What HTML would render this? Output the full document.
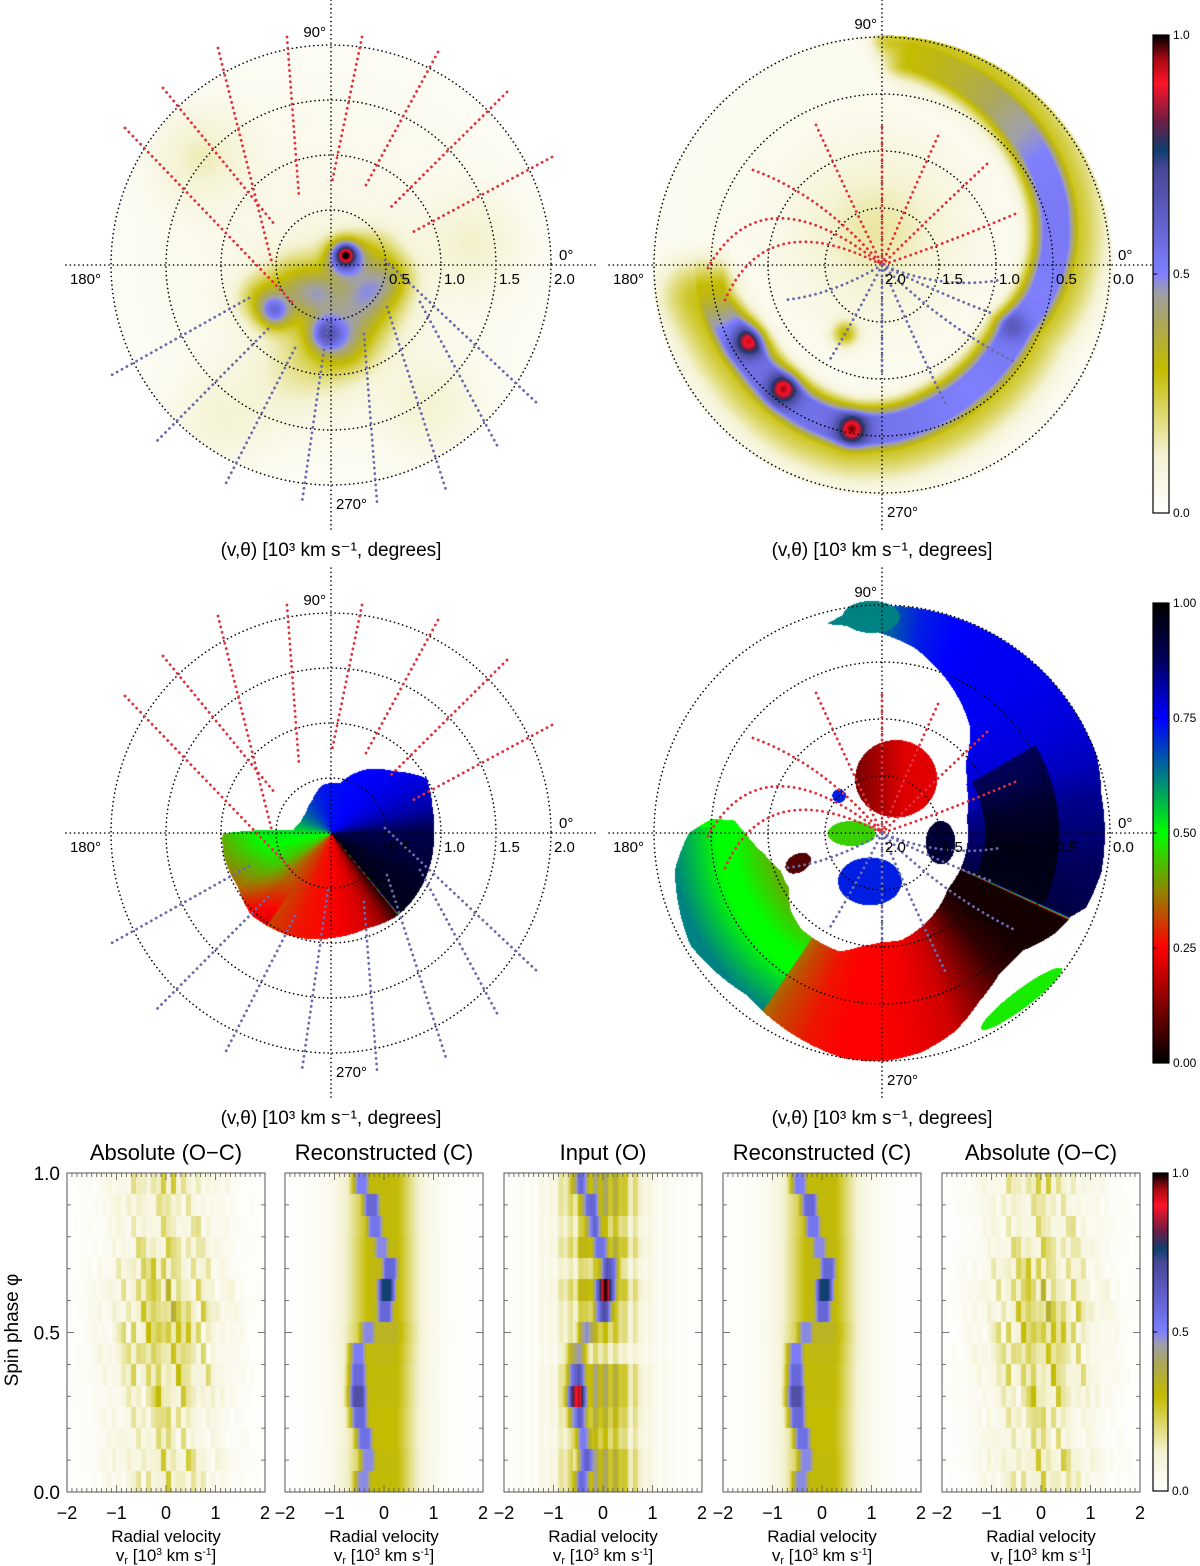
<!DOCTYPE html>
<html><head><meta charset="utf-8">
<style>
html,body{margin:0;padding:0;background:#fff;}
#root{position:relative;width:1200px;height:1566px;overflow:hidden;background:#fff;font-family:"Liberation Sans",sans-serif;}
canvas{position:absolute;}
#ov{position:absolute;left:0;top:0;}
</style></head>
<body>
<div id="root">
<canvas id="cTL" width="460" height="460" style="left:101px;top:35px"></canvas>
<canvas id="cTR" width="480" height="480" style="left:642px;top:25px"></canvas>
<canvas id="cML" width="460" height="460" style="left:101px;top:603px"></canvas>
<canvas id="cMR" width="480" height="480" style="left:642px;top:593px"></canvas>
<canvas id="cb1" width="16" height="478" style="left:1153px;top:35px"></canvas>
<canvas id="cb2" width="16" height="460" style="left:1153px;top:603px"></canvas>
<canvas id="cb3" width="15" height="318" style="left:1153px;top:1173px"></canvas>
<canvas id="t0" width="198" height="319" style="left:67px;top:1173px"></canvas>
<canvas id="t1" width="198" height="319" style="left:285px;top:1173px"></canvas>
<canvas id="t2" width="198" height="319" style="left:504px;top:1173px"></canvas>
<canvas id="t3" width="198" height="319" style="left:723px;top:1173px"></canvas>
<canvas id="t4" width="198" height="319" style="left:942px;top:1173px"></canvas>
<svg id="ov" width="1200" height="1566" xmlns="http://www.w3.org/2000/svg"></svg>
</div>
<script>
// ---------- DATA ----------
const tlX=[0.13,0.12,-0.52,-0.05,0.35,0.55,-0.30,0.10,-0.65,0.40,-0.10,0,-1.2,0.9,-1.0,1.3,-0.3,0.0,0.3];
const tlY=[0.10,0.08,-0.43,-0.62,-0.30,-0.10,-0.20,-0.70,-0.30,0.15,-0.25,0,1.0,-1.3,-1.4,0.2,-1.0,-0.45,-0.2];
const tlA=[0.40,0.46,0.30,0.28,0.22,0.16,0.22,0.22,0.18,0.12,0.10,0.07,0.10,0.08,0.08,0.08,0.08,0.15,0.08];
const tlS=[0.065,0.12,0.10,0.10,0.22,0.15,0.20,0.20,0.15,0.15,0.12,1.5,0.3,0.3,0.3,0.3,0.3,0.35,0.15];
const trAng=[82,65,50,35,20,5,-10,-25,-40,-55,-70,-85,-100,-115,-130,-145,-158,-170];
const trRad=[1.85,1.78,1.72,1.66,1.60,1.52,1.42,1.30,1.30,1.32,1.36,1.42,1.46,1.45,1.43,1.42,1.45,1.52];
const trAmp=[0.30,0.36,0.43,0.50,0.52,0.52,0.50,0.52,0.52,0.50,0.52,0.54,0.55,0.55,0.55,0.55,0.50,0.32];
const trPkAng=[-100.6,-128.7,-150.5,-25,90];
const trPkRad=[1.46,1.39,1.35,1.26,1.98];
const trPkAmp=[0.42,0.40,0.40,0.12,0.12];
const mlAng=[0,15,30,45,60,80,100,120,140,160,175,180,190,210,225,250,270,290,300,309,310,330,345,360];
const mlMaxR=[0.93,0.95,1.0,0.8,0.68,0.47,0.45,0.35,0.30,0.30,0.35,0.99,1.0,0.98,1.04,1.0,0.95,0.92,0.94,0.96,0.96,0.95,0.94,0.93];
const mlVal=[0.9,0.82,0.78,0.76,0.75,0.74,0.73,0.70,0.66,0.60,0.54,0.52,0.50,0.44,0.34,0.27,0.25,0.21,0.15,0.04,0.97,0.95,0.92,0.9];
const mrAng=[0,10,20,30,40,50,60,70,80,90,100,105,106,174,175,180,190,200,210,220,230,240,250,260,270,280,290,300,310,320,330,335,336,340,350,360];
const mrMin=[0.75,0.75,0.8,0.85,0.95,1.2,1.35,1.5,1.65,1.75,1.85,1.9,9,9,1.3,1.2,1.05,0.95,0.95,1.05,1.1,1.1,1.1,1.0,0.95,0.95,0.9,0.85,0.8,0.75,0.75,0.75,0.75,0.75,0.75,0.75];
const mrMax=[1.95,1.95,2.0,2.0,2.0,2.0,2.0,2.0,2.0,2.0,1.95,1.9,0,0,1.5,1.7,1.85,1.9,1.95,1.9,1.85,1.9,1.95,2.0,2.0,1.95,1.85,1.7,1.6,1.6,1.75,1.8,1.8,1.9,1.95,1.95];
const mrVal=[0.86,0.84,0.8,0.78,0.77,0.76,0.76,0.75,0.72,0.64,0.62,0.62,0.62,0.5,0.5,0.5,0.5,0.5,0.48,0.45,0.4,0.32,0.27,0.25,0.25,0.23,0.2,0.12,0.05,0.02,0.02,0.02,0.92,0.9,0.88,0.86];
const mbX=[0.12,-0.11,-0.27,0.51,1.22,-0.74,-0.10,-0.38];
const mbY=[0.48,-0.42,0.00,-0.08,-1.45,-0.26,1.90,0.33];
const mbRx=[0.36,0.28,0.21,0.13,0.44,0.12,0.25,0.06];
const mbRy=[0.34,0.21,0.11,0.19,0.08,0.08,0.14,0.06];
const mbRot=[0,0,0,0,37,30,0,0];
const mbV=[0.22,0.72,0.45,0.93,0.48,0.08,0.62,0.72];
const phaseBins=15;
const recCenter=[-0.42,-0.32,-0.39,-0.49,-0.52,-0.52,-0.52,-0.32,0.02,0.05,0.12,-0.05,-0.18,-0.25,-0.45];
const recPeak=[0.45,0.45,0.52,0.55,0.65,0.55,0.48,0.45,0.55,0.72,0.55,0.45,0.50,0.55,0.47];
const recEnv=[0.27,0.27,0.26,0.26,0.27,0.27,0.28,0.30,0.28,0.28,0.28,0.28,0.27,0.27,0.27];
const inpPeak=[0.50,0.55,0.45,0.55,0.88,0.60,0.40,0.42,0.60,0.90,0.60,0.50,0.50,0.55,0.50];
const inpEnv=[0.30,0.30,0.20,0.25,0.30,0.30,0.10,0.20,0.20,0.30,0.15,0.30,0.20,0.30,0.30];
const ocRow=[0.18,0.22,0.18,0.18,0.22,0.27,0.27,0.27,0.30,0.27,0.22,0.2,0.18,0.18,0.2];
const ocCol=[0.2,0.5,0.3,0.8,0.4,0.6,0.3,0.9,0.5,0.7,0.4,1.0,0.6,0.8,0.3,0.9,0.7,0.5,1.0,0.6,0.9,0.4,0.8,0.5,0.7,0.3,0.9,0.6,0.4,0.8,0.5,0.3,0.7,0.4,0.6,0.3,0.5,0.2,0.4,0.3];
const ocJit=[0.7,1.2,0.9,1.1,0.6,1.3,0.8,1.0,1.2,0.7,1.1,0.9,1.3,0.8,1.0];
const vTicks=[-2,-1,0,1,2];
const phTicks=[0,0.5,1];

// ---------- COLOR MAPS ----------
const C1=[[0,255,255,255],[0.12,245,243,212],[0.3,196,188,0],[0.4,172,168,92],[0.46,160,160,170],[0.5,128,128,255],[0.6,100,100,210],[0.72,72,72,150],[0.76,16,64,112],[0.82,110,30,70],[0.9,255,20,40],[0.95,170,10,20],[1,0,0,0]];
const C2=[[0,0,0,0],[0.12,125,0,0],[0.25,255,0,0],[0.37,150,130,0],[0.5,0,255,0],[0.61,0,140,120],[0.75,0,0,255],[0.88,0,0,90],[1,0,0,0]];
function cmap(C,t){t=Math.max(0,Math.min(1,t));for(let i=1;i<C.length;i++){if(t<=C[i][0]){const a=C[i-1],b=C[i],f=(t-a[0])/(b[0]-a[0]||1);return [a[1]+(b[1]-a[1])*f,a[2]+(b[2]-a[2])*f,a[3]+(b[3]-a[3])*f];}}const l=C[C.length-1];return [l[1],l[2],l[3]];}
function interp(xs,ys,x){for(let i=1;i<xs.length;i++){if(x<=xs[i]){const f=(x-xs[i-1])/(xs[i]-xs[i-1]||1);return ys[i-1]+(ys[i]-ys[i-1])*f;}}return ys[ys.length-1];}
function g(d2,s){return Math.exp(-d2/(2*s*s));}

// ---------- POLAR MAPS ----------
function paint(id,size,scale,fn){
  const c=document.getElementById(id),ctx=c.getContext('2d'),im=ctx.createImageData(size,size),h=size/2;
  for(let py=0;py<size;py++)for(let px=0;px<size;px++){
    const x=(px-h)/scale,y=(h-py)/scale;const col=fn(x,y);const k=(py*size+px)*4;
    if(col){im.data[k]=col[0];im.data[k+1]=col[1];im.data[k+2]=col[2];im.data[k+3]=255;}
  }
  ctx.putImageData(im,0,0);
}
const SL=110,SR=114;
paint('cTL',460,SL,(x,y)=>{const r=Math.hypot(x,y);if(r>2.0)return null;let v=0;
  for(let i=0;i<tlX.length;i++){v+=tlA[i]*g((x-tlX[i])**2+(y-tlY[i])**2,tlS[i]);}
  return cmap(C1,v);});
const trAngA=trAng.slice().reverse(),trRadA=trRad.slice().reverse(),trAmpA=trAmp.slice().reverse();
paint('cTR',480,SR,(x,y)=>{const r=Math.hypot(x,y);if(r>2.02)return null;
  let a=Math.atan2(y,x)*180/Math.PI;if(a>100)a-=360;
  let v=0.04;
  const a0=trAngA[0],a1=trAngA[trAngA.length-1];
  if(a>=a0-25&&a<=a1+15){
    const aa=Math.max(a0,Math.min(a1,a));
    const rad=interp(trAngA,trRadA,aa),amp=interp(trAngA,trAmpA,aa);
    const fade=a<a0?g((a-a0)**2,9):(a>a1?g((a-a1)**2,6):1);
    const dr=r-rad;
    const core=amp*Math.min(1,1.3*g(dr*dr,0.15));
    const halo=0.28*g((dr-0.12)**2,0.26);
    v=Math.max(v,fade*Math.max(core,halo));
  }
  for(let i=0;i<trPkAng.length;i++){const an=trPkAng[i]*Math.PI/180;v+=trPkAmp[i]*g((x-trPkRad[i]*Math.cos(an))**2+(y-trPkRad[i]*Math.sin(an))**2,0.09);}
  v+=0.12*g((x+0.05)**2+(y-0.3)**2,0.5)+0.25*g((x+0.33)**2+(y+0.6)**2,0.08);
  return cmap(C1,v);});
paint('cML',460,SL,(x,y)=>{const r=Math.hypot(x,y);let a=Math.atan2(y,x)*180/Math.PI;if(a<0)a+=360;
  if(r>interp(mlAng,mlMaxR,a))return null;let v=interp(mlAng,mlVal,a);
  if(a>180&&a<235)v-=0.1*Math.max(0,Math.min(1,(r-0.6)/0.4));
  return cmap(C2,v);});
paint('cMR',480,SR,(x,y)=>{const r=Math.hypot(x,y);let a=Math.atan2(y,x)*180/Math.PI;if(a<0)a+=360;
  for(let i=0;i<mbX.length;i++){const t=-mbRot[i]*Math.PI/180;const dx=x-mbX[i],dy=y-mbY[i];const u=dx*Math.cos(t)-dy*Math.sin(t),w=dx*Math.sin(t)+dy*Math.cos(t);
    if((u/mbRx[i])**2+(w/mbRy[i])**2<1){let v=mbV[i];if(i===0)v=0.22-0.12*Math.max(0,(0.2-x)/0.5);return cmap(C2,v);}}
  if(r>2.0)return null;const mn=interp(mrAng,mrMin,a),mx=interp(mrAng,mrMax,a);if(r<mn||r>mx)return null;
  let v=interp(mrAng,mrVal,a);
  if(a>178&&a<236)v=0.5+0.12*Math.max(0,Math.min(1,(r-1.45)/0.4))-0.08*Math.max(0,Math.min(1,(1.3-r)/0.3));
  if((a<30||a>336)&&r>0.9&&r<1.55)v=Math.min(0.97,v+0.1);
  return cmap(C2,v);});

function bar(id,C){const c=document.getElementById(id),ctx=c.getContext('2d');const H=c.height,W=c.width;for(let y=0;y<H;y++){const col=cmap(C,1-y/(H-1));ctx.fillStyle=`rgb(${col[0]|0},${col[1]|0},${col[2]|0})`;ctx.fillRect(0,y,W,1);}}
bar('cb1',C1);bar('cb2',C2);bar('cb3',C1);

// ---------- TRAILS ----------
const TW=198,TH=319;
function xv(v){return (v+2)/4*TW;}
function yp(p){return TH-p*TH;}
function trail(id,fn){const c=document.getElementById(id),ctx=c.getContext('2d');
  for(let r=0;r<phaseBins;r++){for(let px=0;px<TW;px++){const v=-2+4*(px+0.5)/TW;const val=fn(r,v,px);const col=cmap(C1,val);
    ctx.fillStyle=`rgb(${col[0]|0},${col[1]|0},${col[2]|0})`;const y0=Math.round(yp((r+1)/phaseBins)),y1=Math.round(yp(r/phaseBins));ctx.fillRect(px,y0,1,y1-y0);}}}
function envF(v,amp){const s=v<0?0.5:0.45;return amp*Math.min(1,1.15*g((v-0.0)**2,s));}
function recFn(r,v){return Math.max(recPeak[r]*Math.min(1,1.15*g((v-recCenter[r])**2,0.15)),envF(v,recEnv[r]))+0.04*g(v*v,1.0);}
function inpFn(r,v){const col=Math.floor((v+2)*10);const p=ocCol[Math.max(0,Math.min(39,col))];
  return Math.max(inpPeak[r]*g((v-recCenter[r])**2,0.15),envF(v,inpEnv[r])*(0.55+0.55*p))+0.1*p*g(v*v,1.2);}
function ocFn(r,v){const col=Math.floor((v+2)*10);const p=ocCol[(col*7+r*3)%40];
  return ocRow[r]*ocJit[(col+r)%15]*(0.2+p)*g(v*v,0.8)+0.2*(recPeak[r]-0.4)*g((v-recCenter[r]*0.3)**2,0.06);}
trail('t0',ocFn);trail('t1',recFn);trail('t2',inpFn);trail('t3',recFn);trail('t4',ocFn);

// ---------- OVERLAY SVG ----------
const NS='http://www.w3.org/2000/svg';const ov=document.getElementById('ov');
function el(tag,attrs,parent){const e=document.createElementNS(NS,tag);for(const k in attrs)e.setAttribute(k,attrs[k]);(parent||ov).appendChild(e);return e;}
function txt(x,y,s,size,anchor,name,extra){const t=el('text',Object.assign({x:x,y:y,'font-size':size,'text-anchor':anchor||'start',fill:'#000','font-family':'"Liberation Sans",sans-serif'},extra||{}));t.textContent=s;
  
  
  return t;}
const dot={stroke:'#000','stroke-width':1.6,'stroke-dasharray':'0.1 4.2','stroke-linecap':'round',fill:'none'};
const sdot={'stroke-dasharray':'0.1 5.5','stroke-width':2.8};
const redS=[[-113,-217,-59,-2],[-168,-177,-56,-40],[-206,-137,-37,39],[-44,-228,-32,-68],[31,-228,1,-83],[107,-213,35,-80],[176,-173,60,-58],[221,-108,82,-33]];
const blueS=[[-82,33,-221,111],[-63,64,-176,178],[-36,83,-107,222],[-3,57,-29,237],[33,69,46,237],[56,42,115,225],[89,37,168,184],[54,-5,208,140]];
const redR=[[-66,-140,-20,-40],[0,-138,0,-60],[56,-129,20,-50],[105,-101,40,-40],[133,-51,60,-20],[-129,-95,-60,-70],[-174,3,-120,-95],[-157,35,-115,-60]];
const blueR=[[131,96,60,60],[118,15,60,25],[63,138,30,70],[0,110,0,50],[-53,96,-25,50],[-97,35,-50,30],[112,49,60,30]];
function polarFrame(cx,cy,R,n,labels,reversed,prefix){
  const g0=el('g',{});
  
  
  for(let i=1;i<=n;i++)el('circle',Object.assign({cx:cx,cy:cy,r:R*i/n},dot),g0);
  el('line',Object.assign({x1:cx,y1:cy-265,x2:cx,y2:cy+267},dot),g0);
  el('line',Object.assign({x1:cx-R-45,y1:cy,x2:cx+R+45,y2:cy},dot),g0);
  const rs=reversed?redR:redS, bs=reversed?blueR:blueS;
  rs.forEach(s=>{const d=reversed?`M${cx+s[0]} ${cy+s[1]} Q${cx+s[2]} ${cy+s[3]} ${cx} ${cy}`:`M${cx+s[0]} ${cy+s[1]} L${cx+s[2]} ${cy+s[3]}`;
    const p=el('path',Object.assign({d:d},dot,sdot,{stroke:'#e0303c'}),g0);
    
    });
  bs.forEach(s=>{const d=reversed?`M${cx} ${cy} Q${cx+s[2]} ${cy+s[3]} ${cx+s[0]} ${cy+s[1]}`:`M${cx+s[0]} ${cy+s[1]} L${cx+s[2]} ${cy+s[3]}`;
    const p=el('path',Object.assign({d:d},dot,sdot,{stroke:'#6a6ab0'}),g0);
    
    });
  txt(cx-5,cy-R-8,'90°',15,'end',prefix+'-label-90');
  txt(cx+R+8,cy-5,'0°',15,'start',prefix+'-label-0');
  txt(cx-R-10,cy+19,'180°',15,'end',prefix+'-label-180');
  txt(cx+5,cy+R+24,'270°',15,'start',prefix+'-label-270');
  labels.forEach((l,i)=>{txt(cx+R*(reversed?i:(i+1))/n+3,cy+19,l,15,'start',prefix+'-radial-tick');});
  txt(cx,cy+291,'(v,θ) [10³ km s⁻¹, degrees]',19,'middle',prefix+'-axis-title');
}
polarFrame(331,265,220,4,['0.5','1.0','1.5','2.0'],false,'top-left');
polarFrame(882,265,228,4,['2.0','1.5','1.0','0.5','0.0'],true,'top-right');
polarFrame(331,833,220,4,['0.5','1.0','1.5','2.0'],false,'middle-left');
polarFrame(882,833,228,4,['2.0','1.5','1.0','0.5','0.0'],true,'middle-right');
[[1153,35,16,478,['1.0','0.5','0.0'],'colorbar-intensity'],[1153,603,16,460,['1.00','0.75','0.50','0.25','0.00'],'colorbar-phase'],[1153,1173,15,318,['1.0','0.5','0.0'],'colorbar-trail']].forEach(b=>{
  el('rect',{x:b[0],y:b[1],width:b[2],height:b[3],fill:'none',stroke:'#000','stroke-width':1.2});
  const n=b[4].length;b[4].forEach((l,i)=>{const y=b[1]+b[3]*i/(n-1);
    if(i>0&&i<n-1)el('line',{x1:b[0],y1:y,x2:b[0]+4,y2:y,stroke:'#000','stroke-width':1});
    txt(b[0]+b[2]+4,y+4,l,12,'start',b[5]+'-tick');});
});
const titles=['Absolute (O−C)','Reconstructed (C)','Input (O)','Reconstructed (C)','Absolute (O−C)'];
const tx=[67,285,504,723,942];
tx.forEach((x0,i)=>{
  const gp=el('g',{});
  
  
  el('rect',{x:x0,y:1173,width:TW,height:TH,fill:'none',stroke:'#555','stroke-width':1},gp);
  for(let k=0;k<=40;k++){const x=x0+xv(-2+k*0.1);const L=k%10===0?7:4;
    el('line',{x1:x,y1:1492,x2:x,y2:1492-L,stroke:'#555','stroke-width':0.8},gp);
    el('line',{x1:x,y1:1173,x2:x,y2:1173+L,stroke:'#555','stroke-width':0.8},gp);}
  for(let k=0;k<=10;k++){const y=1173+yp(k/10);const L=k%5===0?7:4;
    el('line',{x1:x0,y1:y,x2:x0+L,y2:y,stroke:'#555','stroke-width':0.8},gp);
    el('line',{x1:x0+TW,y1:y,x2:x0+TW-L,y2:y,stroke:'#555','stroke-width':0.8},gp);}
  vTicks.forEach(v=>{txt(x0+xv(v),1519,(v<0?'−':'')+Math.abs(v),18,'middle','x-tick-label');});
  txt(x0+TW/2,1160,titles[i],22,'middle','panel-title-'+(i+1));
  txt(x0+TW/2,1542,'Radial velocity',17,'middle','x-axis-title');
  const t=txt(x0+TW/2,1561,'',17,'middle','x-axis-units');
  t.innerHTML='v<tspan font-size="11" dy="3">r</tspan><tspan dy="-3"> [10</tspan><tspan font-size="10" dy="-6">3</tspan><tspan dy="6"> km s</tspan><tspan font-size="10" dy="-6">-1</tspan><tspan dy="6">]</tspan>';
});
phTicks.forEach(p=>{txt(60,1173+yp(p)+7,p.toFixed(1),19,'end','y-tick-label');});
txt(0,0,'Spin phase φ',19,'middle','y-axis-title',{transform:'translate(18,1330) rotate(-90)'});
</script>
</body></html>
